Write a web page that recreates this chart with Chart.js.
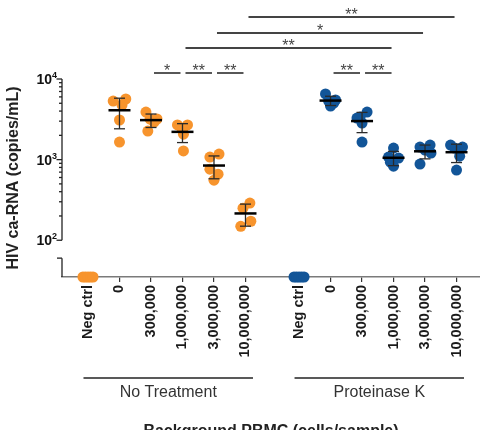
<!DOCTYPE html>
<html>
<head>
<meta charset="utf-8">
<script src="https://cdn.jsdelivr.net/npm/chart.js@4/dist/chart.umd.min.js"></script>
<style>
  html, body { margin: 0; padding: 0; background: #fff; }
  #wrap { width: 480px; height: 430px; position: relative; }
</style>
</head>
<body>
<div id="wrap"><canvas id="chart"></canvas></div>
<script>
// categories on the x axis (same for both groups)
const categories = ["Neg ctrl", "0", "300,000", "1,000,000", "3,000,000", "10,000,000"];
const groupNames = ["No Treatment", "Proteinase K"];

// axis floor value (undetected samples sit here) and top
const yFloor = 35;
const yTop = 10000;
const yBreakTick = 60;
const yMajorTicks = [100, 1000, 10000];

// copies/mL per replicate
const noTreatment = [
    [35, 35, 35, 35, 35],
    [5330, 5650, 4750, 3100, 1650],
    [3890, 2260, 3190, 3190, 2920],
    [2690, 2690, 2320, 2070, 1280],
    [1075, 1170, 762, 660, 556],
    [250, 289, 172, 149],
];
const proteinaseK = [
    [35, 35, 35, 35, 35],
    [6520, 4620, 5490, 5330, 5030],
    [3890, 3280, 2840, 3380, 1650],
    [1390, 1075, 1045, 830, 930],
    [1430, 1515, 1205, 880, 1312],
    [1515, 1430, 1105, 741, 1390],
];

// significance brackets: category index pairs (0-5 no treatment, 6-11 proteinase K)
const sigPairs = [[2, 3], [3, 4], [4, 5], [7, 8], [8, 9], [3, 9], [4, 10], [5, 11]];
const sigLabels = ["*", "**", "**", "**", "**", "**", "*", "**"];
const sigRows = [0, 0, 0, 0, 0, 1, 2, 3];

// horizontal scatter of the dots, in category units
const jitterNT = [
    [-0.16, -0.08, 0, 0.08, 0.16],
    [-0.2, 0.2, 0.08, 0, 0],
    [-0.16, -0.1, -0.03, 0.19, 0.1],
    [-0.16, 0.16, 0, 0.03, 0.03],
    [-0.13, 0.16, -0.13, 0.13, 0],
    [-0.08, 0.14, 0.17, -0.15],
];
const jitterPK = [
    [-0.16, -0.08, 0, 0.08, 0.16],
    [-0.16, 0, 0.16, -0.06, 0.1],
    [0.16, -0.16, 0, -0.06, 0],
    [0, -0.16, 0.16, 0, -0.1],
    [-0.16, 0.16, 0.19, -0.16, 0],
    [-0.19, 0.19, 0.1, 0, -0.06],
];

const FONT = "'Liberation Sans', Arial, Helvetica, sans-serif";
const GROUP_SHIFT = 6.7;
const ROW_Y = [73, 48, 33, 17];

function xPos(cat) {
    return Math.floor(cat / 6) * GROUP_SHIFT + (cat % 6);
}
function mean(a) {
    return a.reduce((s, v) => s + v, 0) / a.length;
}
function sd(a) {
    const m = mean(a);
    return Math.sqrt(a.reduce((s, v) => s + (v - m) * (v - m), 0) / (a.length - 1));
}
function toPoints(group, jitter, g) {
    const pts = [];
    group.forEach((vals, i) => {
        vals.forEach((v, k) => pts.push({ x: xPos(g * 6 + i) + jitter[i][k], y: v }));
    });
    return pts;
}

const tickValues = [];
const tickLabels = [];
groupNames.forEach((_, g) => {
    categories.forEach((c, i) => {
        tickValues.push(xPos(g * 6 + i));
        tickLabels.push(c);
    });
});

function line(ctx, x1, y1, x2, y2) {
    ctx.beginPath();
    ctx.moveTo(x1, y1);
    ctx.lineTo(x2, y2);
    ctx.stroke();
}

const decorations = {
    id: "decorations",
    afterDatasetsDraw(chart) {
        const { ctx, scales: { x, y } } = chart;
        ctx.save();
        [noTreatment, proteinaseK].forEach((grp, g) => {
            grp.forEach((vals, i) => {
                if (i === 0) return;
                const m = mean(vals), s = sd(vals);
                const px = x.getPixelForValue(xPos(g * 6 + i));
                const yHi = y.getPixelForValue(m + s);
                const yLo = y.getPixelForValue(m - s);
                const yM = y.getPixelForValue(m);
                ctx.strokeStyle = "#2a2a2a";
                ctx.lineWidth = 1.3;
                line(ctx, px, yHi, px, yLo);
                line(ctx, px - 5.5, yHi, px + 5.5, yHi);
                line(ctx, px - 5.5, yLo, px + 5.5, yLo);
                ctx.strokeStyle = "#000";
                ctx.lineWidth = 2.5;
                line(ctx, px - 11, yM, px + 11, yM);
            });
        });
        ctx.restore();
    },
    afterDraw(chart) {
        const { ctx, chartArea: area, scales: { x, y } } = chart;
        ctx.save();

        // broken y axis
        const ax = area.left;
        ctx.strokeStyle = "#222";
        ctx.lineWidth = 1.3;
        line(ctx, ax, y.getPixelForValue(yTop), ax, y.getPixelForValue(100));
        line(ctx, ax, y.getPixelForValue(yBreakTick), ax, area.bottom);
        line(ctx, ax - 5, y.getPixelForValue(yBreakTick), ax, y.getPixelForValue(yBreakTick));
        for (let d = 100; d < yTop; d *= 10) {
            for (let k = 2; k <= 9; k++) {
                const py = y.getPixelForValue(d * k);
                line(ctx, ax - 3, py, ax, py);
            }
        }
        ctx.fillStyle = "#111";
        yMajorTicks.forEach((v) => {
            const py = y.getPixelForValue(v);
            line(ctx, ax - 5.5, py, ax, py);
            const exp = String(Math.round(Math.log10(v)));
            ctx.font = "bold 9px " + FONT;
            const ew = ctx.measureText(exp).width;
            ctx.textAlign = "left";
            ctx.textBaseline = "alphabetic";
            ctx.fillText(exp, ax - 5 - ew, py - 1);
            ctx.font = "bold 14px " + FONT;
            ctx.textAlign = "right";
            ctx.fillText("10", ax - 5 - ew, py + 5);
        });

        // significance brackets
        ctx.strokeStyle = "#444";
        ctx.fillStyle = "#444";
        ctx.lineWidth = 1.8;
        ctx.font = "16px " + FONT;
        ctx.textAlign = "center";
        ctx.textBaseline = "alphabetic";
        sigPairs.forEach(([a, b], n) => {
            const x1 = x.getPixelForValue(xPos(a)) + 3;
            const x2 = x.getPixelForValue(xPos(b)) - 2;
            const py = ROW_Y[sigRows[n]];
            line(ctx, x1, py, x2, py);
            ctx.fillText(sigLabels[n], (x1 + x2) / 2, py + 2.5);
        });

        // group labels under the tick labels
        ctx.strokeStyle = "#222";
        ctx.lineWidth = 1.3;
        ctx.fillStyle = "#333";
        ctx.font = "16px " + FONT;
        groupNames.forEach((name, g) => {
            const x1 = x.getPixelForValue(xPos(g * 6)) - 4.5;
            const x2 = x.getPixelForValue(xPos(g * 6 + 5)) + 7.5;
            line(ctx, x1, 378, x2, 378);
            ctx.fillText(name, (x1 + x2) / 2, 397);
        });

        // x axis title (cut by the bottom edge)
        ctx.fillStyle = "#222";
        ctx.font = "bold 16px " + FONT;
        ctx.fillText("Background PBMC (cells/sample)", (area.left + area.right) / 2, 436);
        ctx.restore();
    },
};

const ctx = document.getElementById("chart").getContext("2d");
const chart = new Chart(ctx, {
    type: "scatter",
    data: {
        datasets: [
            {
                label: groupNames[0],
                data: toPoints(noTreatment, jitterNT, 0),
                backgroundColor: "rgb(247, 148, 45)",
                borderWidth: 0,
                pointRadius: 5.5,
                clip: false,
            },
            {
                label: groupNames[1],
                data: toPoints(proteinaseK, jitterPK, 1),
                backgroundColor: "rgb(18, 85, 152)",
                borderWidth: 0,
                pointRadius: 5.5,
                clip: false,
            },
        ],
    },
    options: {
        responsive: true,
        maintainAspectRatio: false,
        animation: false,
        layout: { autoPadding: false, padding: { top: 79, left: 0, right: 0, bottom: 0 } },
        plugins: {
            legend: { display: false },
            tooltip: { enabled: false },
        },
        scales: {
            x: {
                type: "linear",
                min: -0.825,
                max: 12.445,
                afterFit(scale) {
                    scale.height = 153;
                    scale.paddingLeft = 0;
                    scale.paddingRight = 0;
                },
                afterBuildTicks(scale) {
                    scale.ticks = tickValues.map((v) => ({ value: v }));
                },
                grid: {
                    display: true,
                    drawOnChartArea: false,
                    drawTicks: true,
                    tickLength: 5,
                    color: "#333",
                    lineWidth: 1.2,
                },
                border: { display: true, color: "#7a7a7a", width: 1.5 },
                ticks: {
                    autoSkip: false,
                    minRotation: 90,
                    maxRotation: 90,
                    padding: 3,
                    color: "#1a1a1a",
                    font: { family: FONT, size: 14.5, weight: "bold" },
                    callback: (value, index) => tickLabels[index],
                },
            },
            y: {
                type: "logarithmic",
                min: yFloor,
                max: yTop,
                afterFit(scale) {
                    scale.width = 62;
                    scale.paddingTop = 0;
                    scale.paddingBottom = 0;
                },
                grid: { display: false },
                border: { display: false },
                ticks: { display: false },
                title: {
                    display: true,
                    text: "HIV ca-RNA (copies/mL)",
                    color: "#222",
                    font: { family: FONT, size: 16, weight: "bold" },
                    padding: { top: 4, bottom: 0 },
                },
            },
        },
    },
    plugins: [decorations],
});
</script>
</body>
</html>
